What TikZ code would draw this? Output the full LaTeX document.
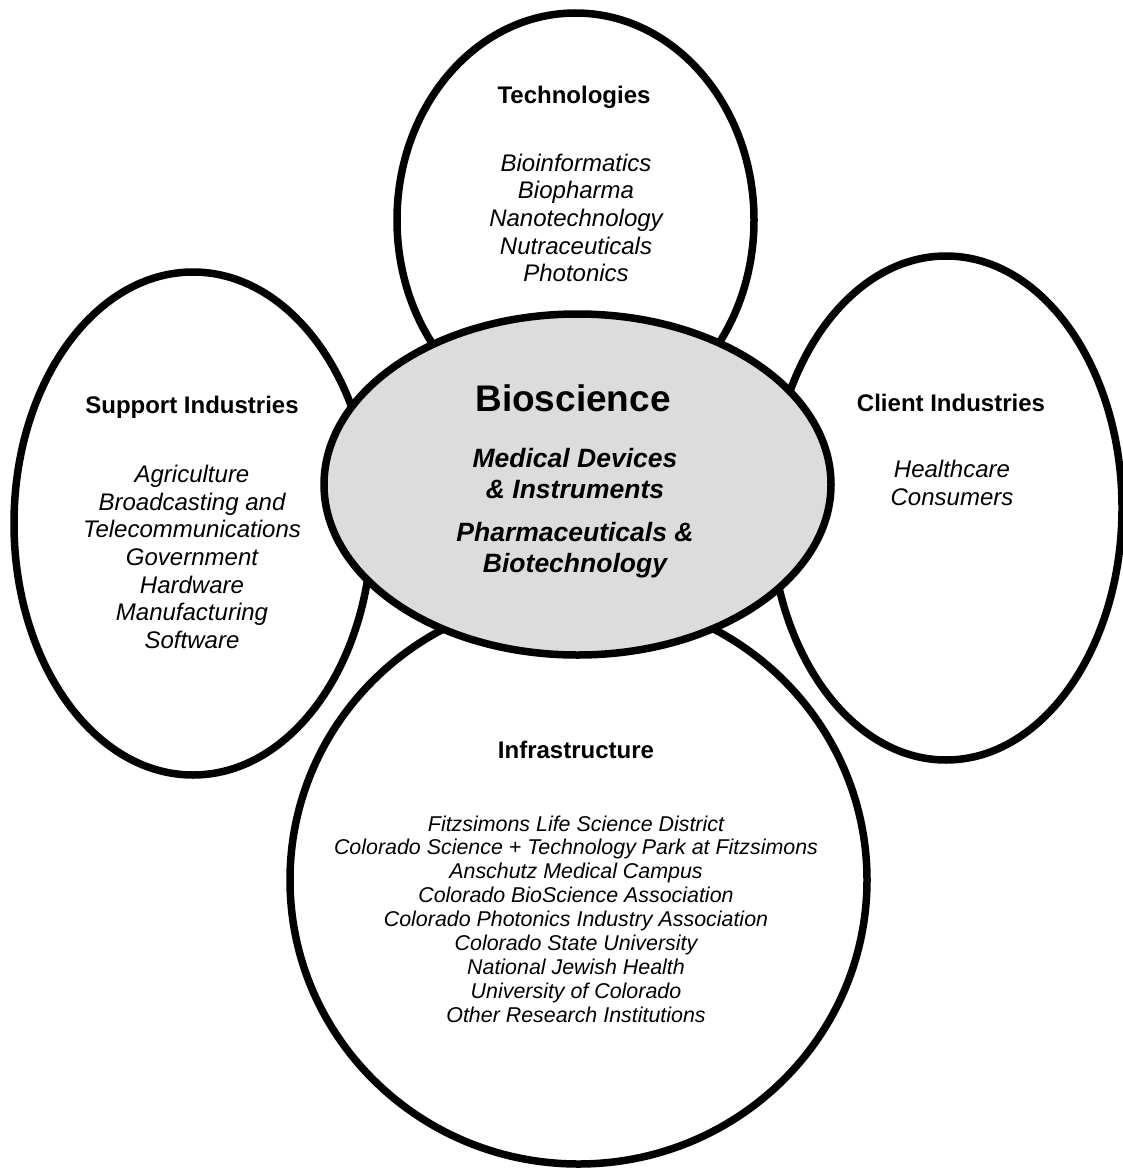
\documentclass[tikz,border=0pt]{standalone}
\usepackage{fontspec}
\setmainfont{Liberation Sans}
\usetikzlibrary{shapes.geometric}
\definecolor{coregray}{RGB}{220,220,220}
\begin{document}
\begin{tikzpicture}[x=1pt,y=-1pt,
  ring/.style={ellipse, draw=black, line width=7.5pt, fill=white, inner sep=0pt},
  head/.style={font=\fontsize{24}{27.6}\selectfont\bfseries, align=center, inner sep=0pt},
  items/.style={font=\fontsize{24}{27.7}\selectfont\itshape, align=center, inner sep=0pt},
  infraitems/.style={font=\fontsize{21.4}{23.9}\selectfont\itshape, align=center, inner sep=0pt},
  coretitle/.style={font=\fontsize{37}{40}\selectfont\bfseries, align=center, inner sep=0pt},
  coreitems/.style={font=\fontsize{26.5}{31}\selectfont\bfseries\itshape, align=center, inner sep=0pt}]
\useasboundingbox (0,0) rectangle (1122,1169);
% outer ellipses
\node[ring, minimum width=357pt, minimum height=414pt] (tech) at (575.5,220) {};
\node[ring, minimum width=358pt, minimum height=503pt] (support) at (193,523.5) {};
\node[ring, minimum width=352pt, minimum height=504pt] (client) at (946,508) {};
\node[ring, minimum width=577pt, minimum height=568pt] (infra) at (578.5,880) {};
% central ellipse
\node[ring, fill=coregray, minimum width=507pt, minimum height=341pt] (core) at (577.5,484.5) {};
% Technologies
\node[head] (techhead) at (574,97) {Technologies};
\node[items] (techlist) at (576,218) {Bioinformatics\\Biopharma\\Nanotechnology\\Nutraceuticals\\Photonics};
% Support Industries
\node[head] (supphead) at (192,407) {Support Industries};
\node[items] (supplist) at (192,557) {Agriculture\\Broadcasting and\\Telecommunications\\Government\\Hardware\\Manufacturing\\Software};
% Client Industries
\node[head] (clienthead) at (951,403) {Client Industries};
\node[items] (clientlist) at (952,483) {Healthcare\\Consumers};
% Bioscience
\node[coretitle] (coretitleN) at (573,398) {Bioscience};
\node[coreitems] (corelist) at (575,513) {Medical Devices\\\& Instruments\\[12pt]Pharmaceuticals \&\\Biotechnology};
% Infrastructure
\node[head] (infrahead) at (576,750) {Infrastructure};
\node[infraitems] (infralist) at (576,919) {Fitzsimons Life Science District\\Colorado Science + Technology Park at Fitzsimons\\Anschutz Medical Campus\\Colorado BioScience Association\\Colorado Photonics Industry Association\\Colorado State University\\National Jewish Health\\University of Colorado\\Other Research Institutions};
\end{tikzpicture}
\end{document}
